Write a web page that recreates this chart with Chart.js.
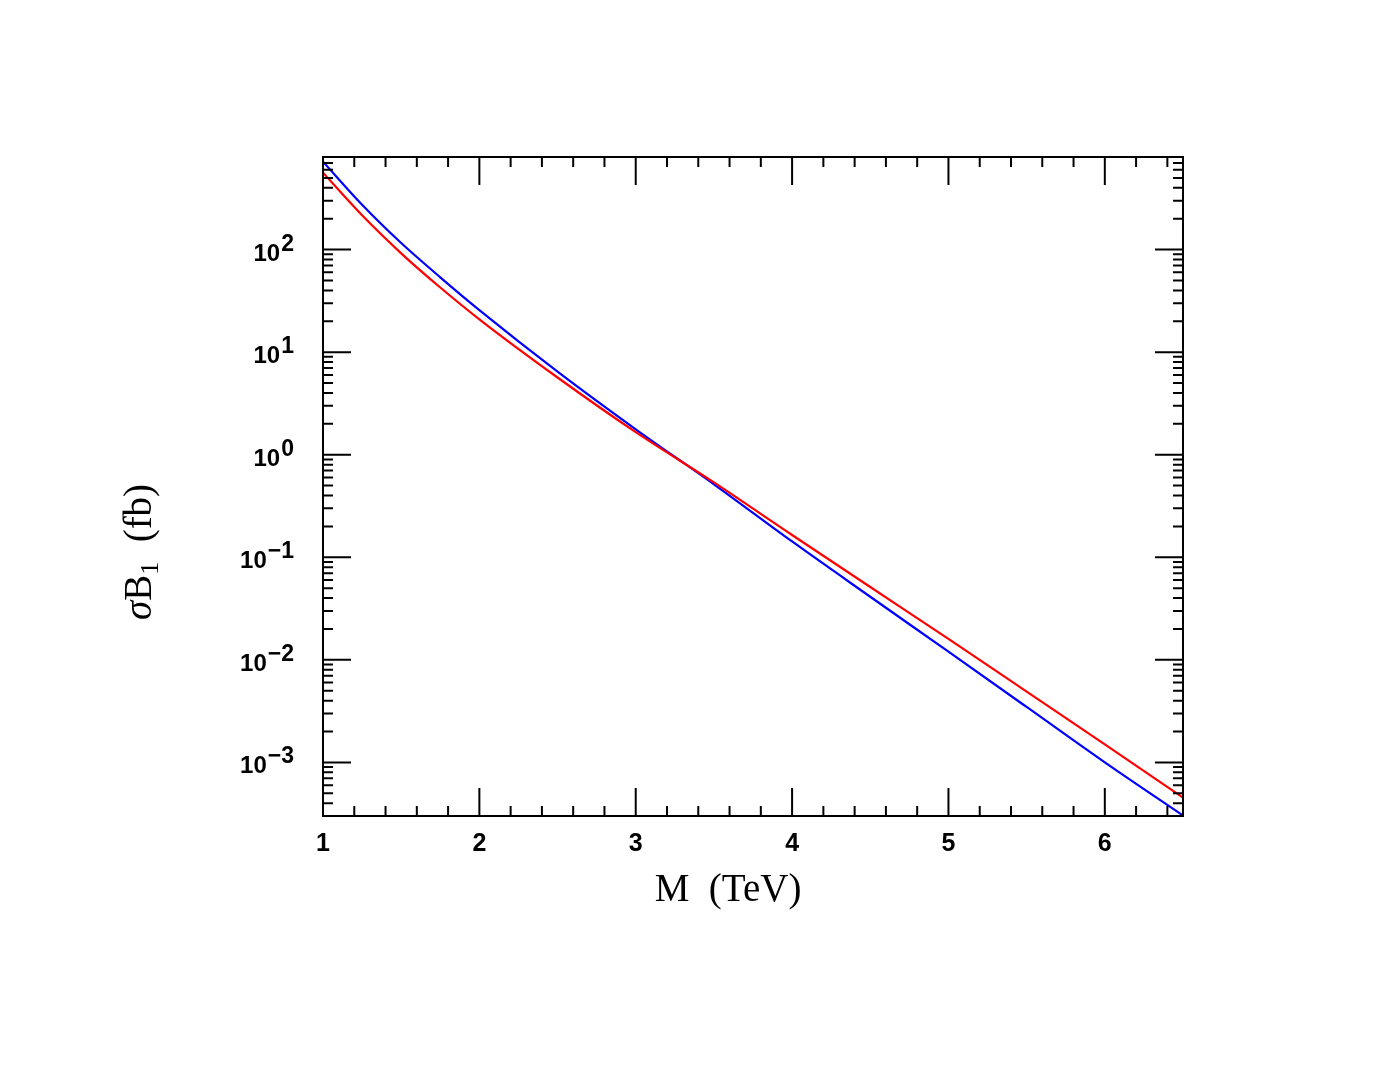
<!DOCTYPE html>
<html>
<head>
<meta charset="utf-8">
<script src="https://cdn.jsdelivr.net/npm/chart.js@4/dist/chart.umd.min.js"></script>
<style>
  body { margin: 0; background: #fff; }
</style>
</head>
<body>
<canvas id="myCanvas" width="1384" height="1069"></canvas>
<script>
// masses in TeV (fb)
let masses = [1, 1.25, 1.5, 1.75, 2, 2.5, 3, 3.5, 4, 4.5, 5, 5.5, 6, 6.5];
let redValues = [562, 216, 92, 42.7, 20.9, 5.66, 1.66, 0.537, 0.165, 0.0513, 0.0160, 0.0049, 0.00150, 0.000453];
let blueValues = [721, 274, 116, 53.7, 25.7, 6.46, 1.77, 0.515, 0.1426, 0.0412, 0.0120, 0.00347, 0.00100, 0.000303];

let xTicks = [1, 2, 3, 4, 5, 6];
let xTickLabels = ["1", "2", "3", "4", "5", "6"];
let yTicks = [1e-3, 1e-2, 1e-1, 1, 10, 100];
let yTickExps = ["\u22123", "\u22122", "\u22121", "0", "1", "2"];

function toPoints(vals) {
  let pts = [];
  for (let i = 0; i < masses.length; i++) {
    pts.push({ x: masses[i], y: vals[i] });
  }
  return pts;
}

// frame, inward ticks and labels drawn by hand (topdrawer look)
const frame = {
  id: "frame",
  afterDatasetsDraw(chart) {
    const ctx = chart.ctx;
    const a = chart.chartArea;
    const x = chart.scales.x;
    const y = chart.scales.y;
    ctx.save();
    ctx.strokeStyle = "#000";
    ctx.lineWidth = 2;
    ctx.strokeRect(a.left, a.top, a.right - a.left, a.bottom - a.top);

    ctx.beginPath();
    // x ticks, minor every 0.2
    for (let i = 5; i <= 32; i++) {
      let px = x.getPixelForValue(i / 5);
      let len = i % 5 === 0 ? 28 : 10;
      ctx.moveTo(px, a.bottom); ctx.lineTo(px, a.bottom - len);
      ctx.moveTo(px, a.top); ctx.lineTo(px, a.top + len);
    }
    // y ticks, log minors
    for (let e = -4; e <= 2; e++) {
      for (let m = 1; m <= 9; m++) {
        let v = m * Math.pow(10, e);
        if (v < y.min || v > y.max) continue;
        let py = y.getPixelForValue(v);
        let len = m === 1 ? 28 : 10;
        ctx.moveTo(a.left, py); ctx.lineTo(a.left + len, py);
        ctx.moveTo(a.right, py); ctx.lineTo(a.right - len, py);
      }
    }
    ctx.stroke();

    ctx.fillStyle = "#000";
    ctx.font = 'bold 25px "Liberation Sans"';
    ctx.textAlign = "center";
    ctx.textBaseline = "alphabetic";
    for (let i = 0; i < xTicks.length; i++) {
      ctx.fillText(xTickLabels[i], x.getPixelForValue(xTicks[i]), a.bottom + 35);
    }

    ctx.textAlign = "right";
    for (let i = 0; i < yTicks.length; i++) {
      let py = y.getPixelForValue(yTicks[i]);
      let right = 294;
      ctx.font = 'bold 23px "Liberation Sans"';
      let w = ctx.measureText(yTickExps[i]).width;
      ctx.fillText(yTickExps[i], right, py + 1);
      ctx.font = 'bold 24px "Liberation Sans"';
      ctx.fillText("10", right - w - 1, py + 11);
    }

    // axis titles
    ctx.font = '39px "Liberation Serif"';
    ctx.textAlign = "center";
    ctx.fillText("M  (TeV)", 728, 901);

    ctx.translate(151, 552);
    ctx.rotate(-Math.PI / 2);
    let parts = [
      { t: "\u03c3", f: 'italic 39px "Liberation Serif"', dy: 0 },
      { t: "B", f: '39px "Liberation Serif"', dy: 0 },
      { t: "1", f: '26px "Liberation Serif"', dy: 7 },
      { t: "  (fb)", f: '39px "Liberation Serif"', dy: 0 }
    ];
    let total = 0;
    for (let p of parts) { ctx.font = p.f; total += ctx.measureText(p.t).width; }
    let cx = -total / 2;
    ctx.textAlign = "left";
    for (let p of parts) {
      ctx.font = p.f;
      ctx.fillText(p.t, cx, p.dy);
      cx += ctx.measureText(p.t).width;
    }
    ctx.restore();
  }
};

const config = {
  type: "line",
  data: {
    datasets: [
      { label: "red", data: toPoints(redValues), borderColor: "#ff0000", borderWidth: 2.2, pointRadius: 0, cubicInterpolationMode: "monotone" },
      { label: "blue", data: toPoints(blueValues), borderColor: "#0000ff", borderWidth: 2.2, pointRadius: 0, cubicInterpolationMode: "monotone" }
    ]
  },
  options: {
    responsive: false,
    animation: false,
    devicePixelRatio: 1,
    layout: { padding: { left: 323, right: 201, top: 157, bottom: 253 } },
    plugins: { legend: { display: false }, tooltip: { enabled: false } },
    scales: {
      x: { type: "linear", min: 1, max: 6.5, display: false },
      y: { type: "logarithmic", min: 3e-4, max: 800, display: false }
    }
  },
  plugins: [frame]
};

new Chart(document.getElementById("myCanvas"), config);
</script>
</body>
</html>
